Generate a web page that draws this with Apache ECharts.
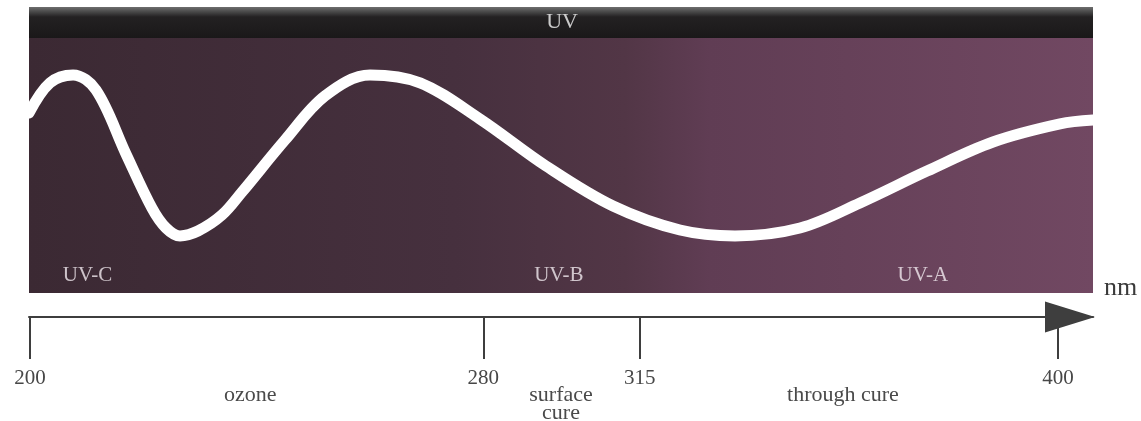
<!DOCTYPE html>
<html>
<head>
<meta charset="utf-8">
<script src="https://cdn.jsdelivr.net/npm/echarts@6.0.0/dist/echarts.min.js"></script>
<style>
html,body{margin:0;padding:0;background:#fff;}
#chart{width:1141px;height:421px;}
</style>
</head>
<body>
<div id="chart"></div>
<script>
// Schematic horizontal position (0-100 across the coloured box) and curve height (0-100)
const curvePos = [0, 1.97, 4.14, 6.30, 9.12, 11.56, 12.88, 14.19, 15.88, 18.14, 20.02, 24.06, 27.82, 32.05, 36.75, 42.39, 48.59, 54.89, 61.18, 66.35, 72.46, 78.10, 84.40, 90.60, 96.90, 100];
const curveVal = [70.6, 82.4, 85.5, 79.6, 54.5, 33.3, 25.5, 22.4, 24.3, 30.6, 39.6, 60.0, 77.3, 85.5, 82.4, 68.2, 49.8, 34.1, 24.7, 22.4, 25.5, 35.3, 47.8, 59.2, 66.3, 67.8];

const bandNames = ['UV-C', 'UV-B', 'UV-A'];
const bandPos = [5.5, 49.8, 84.0];
const bandVal = [7, 7, 7];

const headerName = 'UV';
const headerPos = 50.1;

const tickPos = [0.1, 42.7, 57.4, 96.7];
const tickLabels = ['200', '280', '315', '400'];
const axisUnit = 'nm';

const regionNames = ['ozone', 'surface\ncure', 'through cure'];
const regionPos = [20.8, 50.0, 76.5];

function lookup(v, positions, labels) {
  for (let i = 0; i < positions.length; i++) {
    if (Math.abs(positions[i] - v) < 0.01) return labels[i];
  }
  return '';
}

const serif = '"Liberation Serif", "DejaVu Serif", serif';

const chart = echarts.init(document.getElementById('chart'), null, {renderer: 'canvas'});
chart.setOption({
  animation: false,
  backgroundColor: '#ffffff',
  title: {
    text: axisUnit, left: 1104, top: 274, padding: 0,
    textStyle: {color: '#3a3a3a', fontFamily: serif, fontSize: 26, fontWeight: 'normal', lineHeight: 28}
  },
  grid: [
    { // coloured box
      left: 29, top: 38, width: 1064, height: 255, show: true, borderWidth: 0,
      outerBoundsMode: 'none', containLabel: false,
      backgroundColor: new echarts.graphic.LinearGradient(0, 0, 1, 0, [
        {offset: 0, color: '#3b2933'},
        {offset: 0.4, color: '#46303e'},
        {offset: 0.56, color: '#523646'},
        {offset: 0.64, color: '#603d54'},
        {offset: 1, color: '#714862'}
      ])
    },
    { // UV header band
      left: 29, top: 7, width: 1064, height: 31, show: true, borderWidth: 0,
      outerBoundsMode: 'none', containLabel: false,
      backgroundColor: new echarts.graphic.LinearGradient(0, 0, 0, 1, [
        {offset: 0, color: '#6e6e6e'},
        {offset: 0.15, color: '#4a4a4a'},
        {offset: 0.32, color: '#232122'},
        {offset: 1, color: '#1a1819'}
      ])
    },
    { // ruler
      left: 29, top: 257, width: 1064, height: 60, show: false,
      outerBoundsMode: 'none', containLabel: false
    }
  ],
  xAxis: [
    {gridIndex: 0, type: 'value', min: 0, max: 100, show: false},
    {gridIndex: 1, type: 'value', min: 0, max: 100, show: false},
    {
      gridIndex: 2, type: 'value', min: 0, max: 100, position: 'bottom',
      axisLine: {
        show: true, onZero: false,
        lineStyle: {color: '#3e3e3e', width: 2},
        symbol: ['none', 'triangle'], symbolSize: [31, 50], symbolOffset: [0, -23]
      },
      axisTick: {show: true, customValues: tickPos, length: 42, lineStyle: {color: '#3e3e3e', width: 2}},
      axisLabel: {
        show: true, customValues: tickPos, margin: 51,
        formatter: function (v) { return lookup(v, tickPos, tickLabels); },
        color: '#474747', fontFamily: serif, fontSize: 21, lineHeight: 21
      },
      splitLine: {show: false}
    },
    {
      gridIndex: 2, type: 'value', min: 0, max: 100, position: 'bottom', offset: 0,
      axisLine: {show: false}, axisTick: {show: false}, splitLine: {show: false},
      axisLabel: {
        show: true, customValues: regionPos, margin: 69,
        formatter: function (v) { return lookup(v, regionPos, regionNames); },
        color: '#4a4a4a', fontFamily: serif, fontSize: 22, lineHeight: 18
      }
    }
  ],
  yAxis: [
    {gridIndex: 0, type: 'value', min: 0, max: 100, show: false},
    {gridIndex: 1, type: 'value', min: 0, max: 1, show: false},
    {gridIndex: 2, type: 'value', min: 0, max: 1, show: false}
  ],
  series: [
    {
      type: 'line', xAxisIndex: 0, yAxisIndex: 0,
      data: curvePos.map((p, i) => [p, curveVal[i]]),
      smooth: 0.35, showSymbol: false, clip: true,
      lineStyle: {color: '#ffffff', width: 11, cap: 'round', join: 'round'}
    },
    {
      type: 'scatter', xAxisIndex: 0, yAxisIndex: 0,
      data: bandPos.map((p, i) => ({value: [p, bandVal[i]], name: bandNames[i]})),
      symbolSize: 1, itemStyle: {color: 'rgba(0,0,0,0)'},
      label: {show: true, position: 'inside', formatter: '{b}', color: '#f1eaef', fontFamily: serif, fontSize: 21}
    },
    {
      type: 'scatter', xAxisIndex: 1, yAxisIndex: 1,
      data: [{value: [headerPos, 0.5], name: headerName}],
      symbolSize: 1, itemStyle: {color: 'rgba(0,0,0,0)'},
      label: {show: true, position: 'inside', formatter: '{b}', color: '#f5f5f5', fontFamily: serif, fontSize: 22}
    }
  ]
});
</script>
</body>
</html>
